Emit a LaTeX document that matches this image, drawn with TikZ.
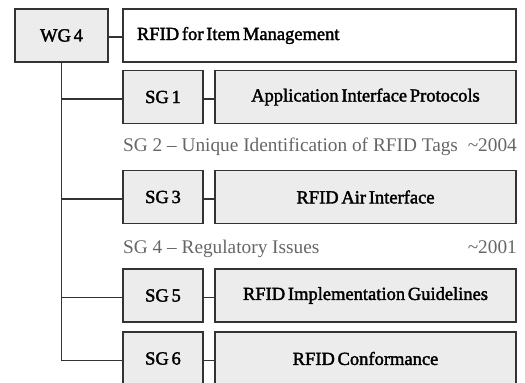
\documentclass[tikz,border=0pt]{standalone}
\usepackage{fontspec}
\setmainfont{Liberation Serif}
\newfontfamily\boxfont[FakeBold=2, WordSpace=0.6]{Liberation Serif}
\begin{document}
\begin{tikzpicture}[x=1pt, y=1pt,
    sgbox/.style={draw=black!80, line width=1.2pt, fill=gray!15, minimum width=80pt, minimum height=53pt, inner sep=0pt, font=\boxfont\fontsize{18.5}{20}\selectfont},
    wide/.style={sgbox, minimum width=301pt},
    note/.style={inner sep=0pt, text=black!60, font=\fontsize{19.3}{21}\selectfont},
    link/.style={draw=black!80, line width=1.2pt}]
  \useasboundingbox (0,0) rectangle (525,-383);
  \clip (0,0) rectangle (525,-383);

  % Working group
  \node[sgbox, minimum width=93pt] (wg4) at (61.5,-35.5) {WG 4};
  \node[sgbox, fill=white, minimum width=393pt] (item) at (319.5,-35.5) {\makebox[365pt][l]{RFID for Item Management}};
  \draw[link] ([yshift=-1.5pt]wg4.east) -- ([yshift=-1.5pt]item.west);

  % Sub groups
  \node[sgbox] (sg1) at (163,-97) {SG 1};
  \node[wide] (app) at (365.5,-97) {Application Interface Protocols};

  \node[note, anchor=base west] (sg2) at (123,-151) {SG 2 -- Unique Identification of RFID Tags};
  \node[note, anchor=base east] (sg2year) at (517,-151) {\textasciitilde2004};

  \node[sgbox] (sg3) at (163,-197) {SG 3};
  \node[wide] (air) at (365.5,-197) {RFID Air Interface};

  \node[note, anchor=base west] (sg4) at (123,-253) {SG 4 -- Regulatory Issues};
  \node[note, anchor=base east] (sg4year) at (517,-253) {\textasciitilde2001};

  \node[sgbox] (sg5) at (163,-295.5) {SG 5};
  \node[wide] (impl) at (365.5,-295.5) {RFID Implementation Guidelines};

  \node[sgbox] (sg6) at (163,-358.5) {SG 6};
  \node[wide] (conf) at (365.5,-358.5) {RFID Conformance};

  % Tree lines
  \draw[link] (wg4.south) |- ([yshift=-2pt]sg6.west);
  \draw[link] (wg4.south) |- ([yshift=-2pt]sg1.west);
  \draw[link] (wg4.south) |- ([yshift=-2pt]sg3.west);
  \draw[link] (wg4.south) |- ([yshift=-2pt]sg5.west);

  \draw[link] ([yshift=-2pt]sg1.east) -- ([yshift=-2pt]app.west);
  \draw[link] ([yshift=-2pt]sg3.east) -- ([yshift=-2pt]air.west);
  \draw[link] ([yshift=-2pt]sg5.east) -- ([yshift=-2pt]impl.west);
  \draw[link] ([yshift=-2pt]sg6.east) -- ([yshift=-2pt]conf.west);
\end{tikzpicture}
\end{document}
